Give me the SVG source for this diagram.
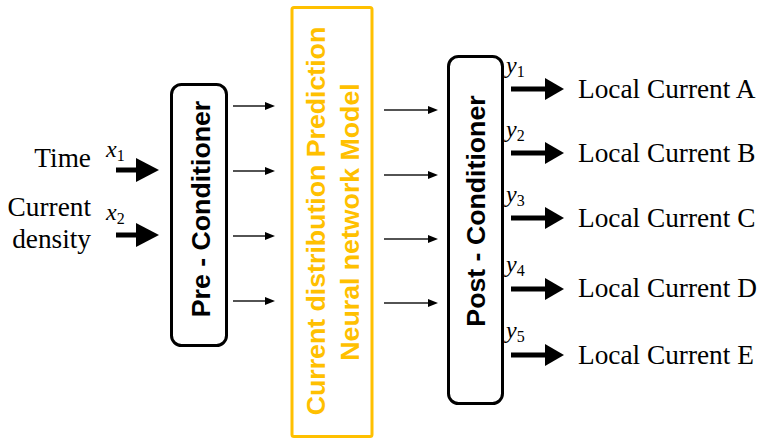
<svg xmlns="http://www.w3.org/2000/svg" width="765" height="438" viewBox="0 0 765 438">
  <style>
    .box { fill: #ffffff; stroke: #000000; stroke-width: 3; }
    .nn { fill: #ffffff; stroke: #FFC000; stroke-width: 3; }
    .blk { font-family: "Liberation Sans", Arial, sans-serif; font-weight: bold; font-size: 26.7px; text-anchor: middle; }
    .lbl { font-family: "Liberation Serif", "Times New Roman", serif; font-size: 27.3px; fill: #000; }
    .var { font-family: "Liberation Serif", "Times New Roman", serif; font-style: italic; font-size: 24px; fill: #000; }
    .sub { font-style: normal; font-size: 16px; }
    .thin { stroke: #1a1a1a; stroke-width: 1.4; fill: none; marker-end: url(#headThin); }
    .thickIn { stroke: #000; stroke-width: 5; fill: none; marker-end: url(#headIn); }
    .thickOut { stroke: #000; stroke-width: 5; fill: none; marker-end: url(#headOut); }
  </style>
  <defs>
    <marker id="headThin" markerUnits="userSpaceOnUse" markerWidth="10" markerHeight="8" refX="1" refY="4" orient="auto">
      <path d="M0,0 L10,4 L0,8 z" fill="#000"/>
    </marker>
    <marker id="headIn" markerUnits="userSpaceOnUse" markerWidth="23" markerHeight="24" refX="1" refY="12" orient="auto">
      <path d="M0,0 L23,12 L0,24 z" fill="#000"/>
    </marker>
    <marker id="headOut" markerUnits="userSpaceOnUse" markerWidth="19" markerHeight="22" refX="1" refY="11" orient="auto">
      <path d="M0,0 L19,11 L0,22 z" fill="#000"/>
    </marker>
  </defs>

  <rect width="765" height="438" fill="#ffffff"/>

  <!-- input labels -->
  <g id="inputs">
    <text class="lbl" x="91" y="167" text-anchor="end">Time</text>
    <text class="lbl" x="91" y="216" text-anchor="end">Current</text>
    <text class="lbl" x="91" y="248" text-anchor="end">density</text>
    <text class="var" x="106" y="157">x<tspan class="sub" dy="4">1</tspan></text>
    <text class="var" x="106" y="220">x<tspan class="sub" dy="4">2</tspan></text>
  </g>

  <!-- pre-conditioning block -->
  <g id="pre-conditioner">
    <rect class="box" x="171.5" y="84.5" width="55" height="261" rx="10"/>
    <text class="blk" transform="translate(209.5,209) rotate(-90)">Pre - Conditioner</text>
  </g>

  <!-- neural network block -->
  <g id="nn-model">
    <rect class="nn" x="292" y="7.5" width="80" height="429" rx="2"/>
    <text class="blk" fill="#FFC000" transform="translate(324.5,221) rotate(-90)">Current distribution Prediction</text>
    <text class="blk" fill="#FFC000" transform="translate(359,222) rotate(-90)">Neural network Model</text>
  </g>

  <!-- post-conditioning block -->
  <g id="post-conditioner">
    <rect class="box" x="448.5" y="56.5" width="54" height="347" rx="10"/>
    <text class="blk" transform="translate(485,211) rotate(-90)">Post - Conditioner</text>
  </g>

  <!-- outputs -->
  <g id="outputs">
    <text class="var" x="506" y="73">y<tspan class="sub" dy="4">1</tspan></text>
    <text class="var" x="506" y="137">y<tspan class="sub" dy="4">2</tspan></text>
    <text class="var" x="506" y="202">y<tspan class="sub" dy="4">3</tspan></text>
    <text class="var" x="506" y="272">y<tspan class="sub" dy="4">4</tspan></text>
    <text class="var" x="506" y="338">y<tspan class="sub" dy="4">5</tspan></text>
    <text class="lbl" x="578" y="98">Local Current A</text>
    <text class="lbl" x="578" y="162">Local Current B</text>
    <text class="lbl" x="578" y="227">Local Current C</text>
    <text class="lbl" x="578" y="297">Local Current D</text>
    <text class="lbl" x="578" y="364">Local Current E</text>
  </g>

  <!-- connectors -->
  <g id="connectors">
    <line class="thickIn" x1="116" y1="170" x2="137" y2="170"/>
    <line class="thickIn" x1="116" y1="235" x2="137" y2="235"/>

    <line class="thin" x1="233" y1="106" x2="266" y2="106"/>
    <line class="thin" x1="233" y1="171" x2="266" y2="171"/>
    <line class="thin" x1="233" y1="236" x2="266" y2="236"/>
    <line class="thin" x1="233" y1="301" x2="266" y2="301"/>

    <line class="thin" x1="384" y1="110" x2="429" y2="110"/>
    <line class="thin" x1="384" y1="175" x2="429" y2="175"/>
    <line class="thin" x1="384" y1="239" x2="429" y2="239"/>
    <line class="thin" x1="384" y1="303" x2="429" y2="303"/>

    <line class="thickOut" x1="511" y1="89" x2="546" y2="89"/>
    <line class="thickOut" x1="511" y1="153" x2="546" y2="153"/>
    <line class="thickOut" x1="511" y1="218" x2="546" y2="218"/>
    <line class="thickOut" x1="511" y1="289" x2="546" y2="289"/>
    <line class="thickOut" x1="511" y1="355" x2="546" y2="355"/>
  </g>
</svg>
